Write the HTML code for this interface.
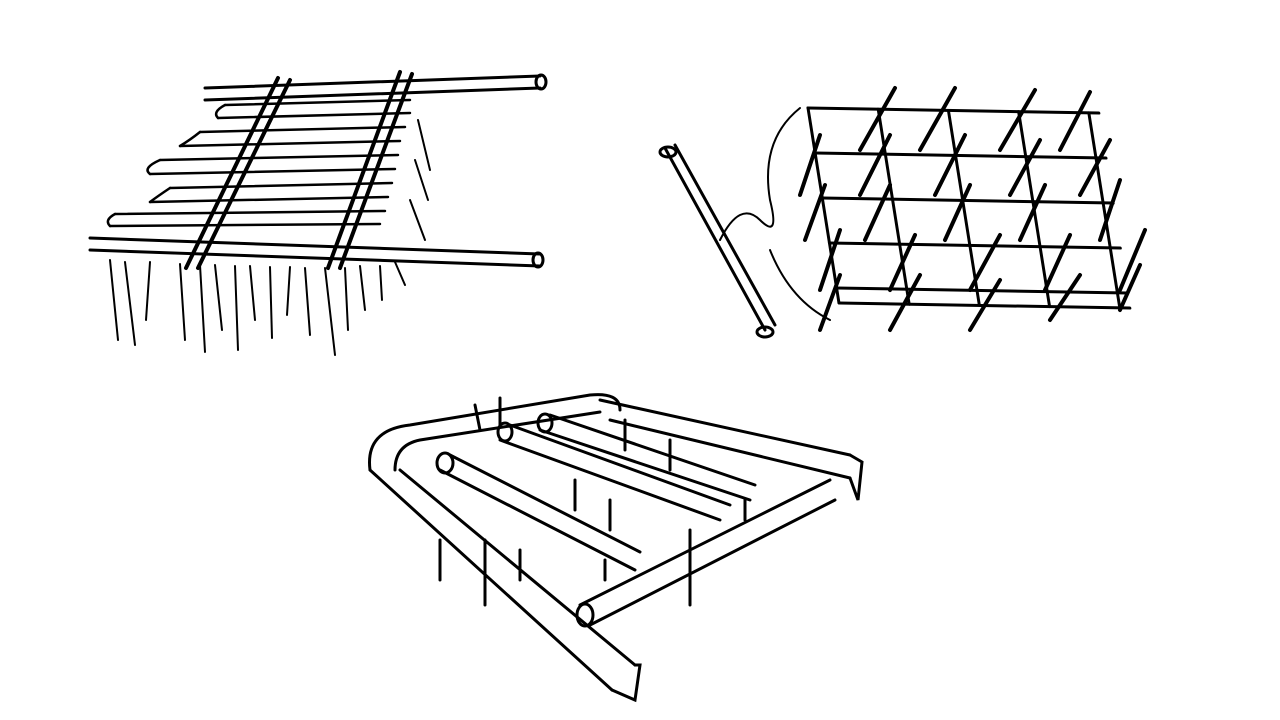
<!DOCTYPE html>
<html><head><meta charset="utf-8"><style>html,body{margin:0;padding:0;background:#fff}svg{display:block}</style></head>
<body>
<svg width="1280" height="720" viewBox="0 0 1280 720" xmlns="http://www.w3.org/2000/svg" fill="none" stroke="#000" stroke-linecap="round">
<g stroke-width="3">
<path d="M205 88 L540 76 M205 100 L540 88"/><ellipse cx="541" cy="82" rx="5" ry="7"/>
<path d="M90 238 L540 254 M90 250 L540 266"/><ellipse cx="538" cy="260" rx="5" ry="7"/>
<g stroke-width="2.5">
<path d="M225 105 L410 100 M218 118 L410 113 M200 132 L405 127 M180 146 L400 141 M160 160 L398 155 M150 174 L395 169 M170 188 L392 183 M150 202 L388 197 M115 214 L385 211 M110 226 L380 224"/>
<path d="M225 105 Q212 112 218 118 M200 132 Q190 140 180 146 M160 160 Q142 168 150 174 M170 188 Q158 196 150 202 M115 214 Q104 220 110 226"/>
</g>
<path d="M278 78 L186 268 M290 80 L198 268" stroke-width="4"/>
<path d="M400 72 L328 268 M412 74 L340 268" stroke-width="4"/>
<g stroke-width="2">
<path d="M110 260 L118 340 M125 262 L135 345 M150 262 L146 320 M180 264 L185 340 M200 265 L205 352 M215 265 L222 330 M235 266 L238 350 M250 266 L255 320 M270 267 L272 338 M290 267 L287 315 M305 268 L310 335 M325 268 L335 355 M345 268 L348 330 M360 266 L365 310 M380 266 L382 300 M395 262 L405 285 M410 200 L425 240 M415 160 L428 200 M418 120 L430 170"/>
</g>
</g>
<g stroke-width="3">
<g transform="translate(808,108) skewX(10) rotate(1)">
<path d="M0 0 H290 M0 45 H290 M0 90 H290 M0 135 H290 M0 180 H290 M0 195 H290"/>
<path d="M0 0 V195 M70 0 V195 M140 0 V195 M210 0 V195 M280 0 V195"/>
</g>
<g stroke-width="4">
<path d="M895 88 L860 150 M955 88 L920 150 M1035 90 L1000 150 M1090 92 L1060 150 M820 135 L800 195 M890 135 L860 195 M965 135 L935 195 M1040 140 L1010 195 M1110 140 L1080 195 M825 185 L805 240 M890 185 L865 240 M970 185 L945 240 M1045 185 L1020 240 M1120 180 L1100 240 M840 230 L820 290 M915 235 L890 290 M1000 235 L970 290 M1070 235 L1045 290 M1145 230 L1120 290 M840 275 L820 330 M920 275 L890 330 M1000 280 L970 330 M1080 275 L1050 320 M1140 265 L1120 310"/>
</g>
<path d="M665 148 L765 330 M675 145 L775 325"/>
<ellipse cx="668" cy="152" rx="8" ry="5"/><ellipse cx="765" cy="332" rx="8" ry="5"/>
<path d="M720 240 Q740 200 760 220 Q780 240 770 200 Q760 140 800 108" stroke-width="2"/>
<path d="M770 250 Q790 300 830 320" stroke-width="2"/>
</g>
<g stroke-width="3">
<path d="M370 470 Q365 430 410 425 L590 395 Q620 392 620 410"/>
<path d="M395 470 Q395 445 420 440 L600 412"/>
<path d="M600 400 L850 455 M610 420 L850 478"/><path d="M850 455 L862 462 L858 500 L850 478"/>
<path d="M370 470 L612 690 M400 470 L635 665"/><path d="M612 690 L635 700 L640 665 L635 665"/>
<path d="M580 605 L830 480 M590 625 L835 500"/><ellipse cx="585" cy="615" rx="8" ry="11"/>
<path d="M440 470 L635 570 M450 455 L640 552 M500 440 L720 520 M510 425 L730 505 M540 430 L750 500 M550 415 L755 485"/>
<ellipse cx="445" cy="463" rx="8" ry="10"/><ellipse cx="505" cy="432" rx="7" ry="9"/><ellipse cx="545" cy="423" rx="7" ry="9"/>
<g stroke-width="3">
<path d="M475 405 L480 430 M500 398 L500 425 M440 540 L440 580 M485 540 L485 605 M520 550 L520 580 M575 480 L575 510 M610 500 L610 530 M625 420 L625 450 M670 440 L670 470 M690 530 L690 605 M605 560 L605 580 M745 500 L745 520"/>
</g>
</g>
</svg>
</body></html>
